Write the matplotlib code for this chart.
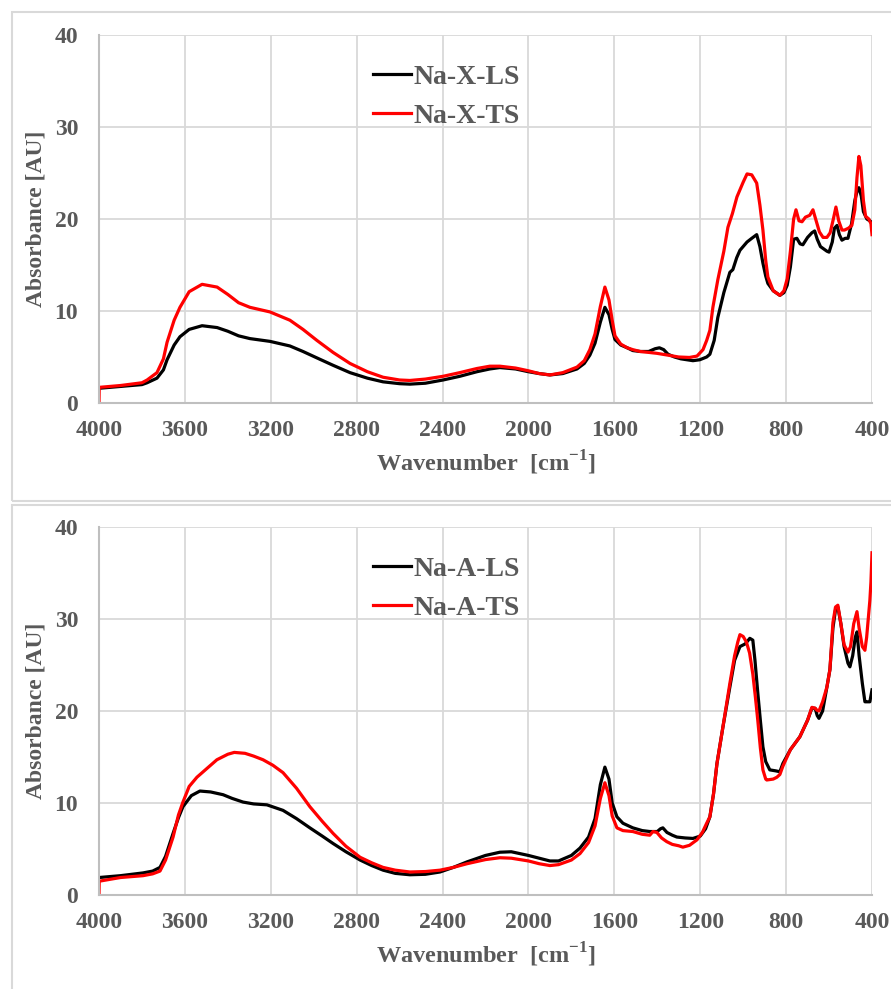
import matplotlib
matplotlib.use("Agg")
import matplotlib.pyplot as plt
from matplotlib.patches import Rectangle

plt.rcParams['font.family'] = ['Liberation Serif', 'DejaVu Serif']
plt.rcParams['font.weight'] = 'bold'
plt.rcParams['axes.labelweight'] = 'bold'
plt.rcParams['mathtext.fontset'] = 'custom'
plt.rcParams['mathtext.rm'] = 'Liberation Serif:bold'
plt.rcParams['mathtext.bf'] = 'Liberation Serif:bold'

# ---- data (wavenumber cm-1, absorbance AU) ----
x_ls_wn = [4000, 3900, 3800, 3776, 3730, 3700, 3683, 3650, 3623, 3580, 3520, 3450, 3400, 3350, 3297,
           3204, 3111, 3050, 2985, 2910, 2831, 2750, 2677, 2600, 2552, 2480, 2398, 2320, 2240, 2180,
           2133, 2060, 2000, 1950, 1900, 1840, 1774, 1740, 1714, 1690, 1665, 1644, 1625, 1610, 1597,
           1570, 1540, 1514, 1480, 1440, 1410, 1390, 1370, 1350, 1320, 1290, 1234, 1202, 1170, 1155,
           1135, 1118, 1090, 1062, 1048, 1030, 1015, 982, 960, 937, 922, 908, 895, 885, 860,
           829, 810, 795, 780, 765, 750, 735, 722, 700, 680, 667, 655, 640, 628, 610,
           600, 585, 575, 563, 552, 540, 525, 512, 495, 480, 470, 461, 450, 440, 424,
           410, 400]
x_ls_ab = [1.6, 1.8, 2.0, 2.2, 2.7, 3.6, 4.7, 6.3, 7.2, 8.0, 8.4, 8.2, 7.8, 7.3, 7.0,
           6.7, 6.2, 5.6, 4.9, 4.1, 3.3, 2.7, 2.3, 2.1, 2.05, 2.15, 2.5, 2.9, 3.4, 3.7,
           3.85, 3.7, 3.4, 3.2, 3.05, 3.2, 3.7, 4.3, 5.2, 6.5, 8.8, 10.4, 9.6, 8.0, 6.9,
           6.3, 6.0, 5.7, 5.6, 5.6, 5.9, 6.0, 5.8, 5.3, 5.0, 4.8, 4.6, 4.7, 5.0, 5.3,
           6.8, 9.3, 12.0, 14.2, 14.5, 15.8, 16.6, 17.5, 17.9, 18.3, 17.0, 15.2, 13.8, 13.0, 12.2,
           11.7, 12.0, 12.8, 14.8, 17.8, 17.9, 17.3, 17.2, 18.0, 18.5, 18.7, 17.8, 17.0, 16.8, 16.5,
           16.4, 17.5, 19.0, 19.3, 18.3, 17.7, 17.9, 17.9, 19.5, 22.0, 23.0, 23.4, 22.5, 20.8, 20.0,
           19.8, 19.6]

x_ts_wn = [4000, 3999, 3900, 3800, 3776, 3730, 3700, 3683, 3650, 3623, 3580, 3520, 3450, 3400, 3350,
           3297, 3204, 3111, 3050, 2985, 2910, 2831, 2750, 2677, 2600, 2552, 2480, 2398, 2320, 2240,
           2180, 2133, 2060, 2000, 1950, 1900, 1840, 1774, 1740, 1714, 1690, 1665, 1644, 1625, 1610,
           1597, 1570, 1540, 1514, 1480, 1440, 1402, 1350, 1300, 1250, 1215, 1187, 1170, 1155, 1141,
           1118, 1090, 1071, 1050, 1029, 1000, 982, 960, 937, 922, 908, 895, 885, 860, 829,
           810, 795, 780, 765, 754, 740, 726, 710, 690, 675, 660, 645, 628, 610, 595,
           580, 568, 555, 540, 528, 510, 494, 480, 470, 461, 452, 440, 430, 415, 405,
           400]
x_ts_ab = [0.0, 1.7, 1.9, 2.2, 2.5, 3.3, 4.8, 6.6, 9.0, 10.4, 12.1, 12.9, 12.6, 11.8, 10.9,
           10.4, 9.9, 9.0, 8.0, 6.8, 5.5, 4.3, 3.4, 2.8, 2.5, 2.45, 2.6, 2.9, 3.3, 3.75,
           4.0, 4.0, 3.8, 3.5, 3.2, 3.05, 3.3, 3.9, 4.6, 5.8, 7.5, 10.5, 12.6, 11.2, 9.0,
           7.3, 6.4, 6.0, 5.8, 5.6, 5.5, 5.4, 5.2, 5.0, 4.95, 5.1, 5.8, 6.8, 7.9, 10.4,
           13.4, 16.5, 19.1, 20.6, 22.4, 24.0, 24.9, 24.8, 23.9, 21.5, 18.8, 15.5, 13.7, 12.2, 11.7,
           12.2, 13.5, 16.5, 20.0, 21.0, 19.8, 19.7, 20.2, 20.4, 21.0, 19.8, 18.6, 18.0, 18.0, 18.5,
           20.0, 21.3, 19.8, 18.8, 18.8, 19.0, 19.3, 21.0, 24.5, 26.8, 25.8, 22.0, 20.3, 20.0, 19.5,
           18.3]

a_ls_wn = [4000, 3900, 3795, 3750, 3716, 3690, 3655, 3630, 3609, 3570, 3530, 3480, 3422, 3380, 3329,
           3280, 3218, 3143, 3080, 3018, 2960, 2910, 2850, 2784, 2730, 2677, 2620, 2552, 2480, 2412,
           2350, 2286, 2200, 2133, 2080, 2000, 1950, 1900, 1860, 1800, 1760, 1720, 1690, 1665, 1644,
           1625, 1610, 1588, 1560, 1514, 1470, 1435, 1400, 1385, 1374, 1355, 1330, 1309, 1270, 1234,
           1200, 1175, 1155, 1138, 1122, 1094, 1062, 1040, 1015, 990, 969, 955, 945, 932, 920,
           908, 895, 876, 850, 829, 815, 780, 736, 700, 680, 665, 655, 647, 630, 610,
           596, 582, 570, 559, 545, 530, 512, 503, 490, 478, 470, 460, 445, 433, 424,
           410, 400]
a_ls_ab = [1.9, 2.1, 2.4, 2.6, 3.0, 4.2, 6.7, 8.4, 9.6, 10.8, 11.3, 11.2, 10.9, 10.5, 10.1,
           9.9, 9.8, 9.2, 8.3, 7.3, 6.4, 5.6, 4.7, 3.8, 3.2, 2.7, 2.35, 2.2, 2.25, 2.5,
           3.0, 3.6, 4.3, 4.65, 4.7, 4.3, 4.0, 3.7, 3.7, 4.3, 5.1, 6.3, 8.3, 12.0, 13.9,
           12.6, 10.0, 8.5, 7.8, 7.3, 7.0, 6.9, 6.9, 7.2, 7.3, 6.8, 6.5, 6.3, 6.2, 6.15,
           6.4, 7.2, 8.5, 11.0, 14.3, 18.3, 22.6, 25.5, 27.0, 27.3, 27.9, 27.7, 25.5, 22.0, 19.0,
           16.1, 14.5, 13.6, 13.5, 13.4, 14.3, 15.8, 17.2, 19.0, 20.3, 20.3, 19.5, 19.2, 20.0, 22.6,
           24.5, 29.0, 31.0, 31.3, 29.5, 27.0, 25.2, 24.8, 26.0, 28.0, 28.6, 26.0, 23.0, 21.0, 21.0,
           21.0, 22.3]

a_ts_wn = [4000, 3999, 3900, 3795, 3750, 3716, 3690, 3655, 3630, 3609, 3580, 3544, 3500, 3451, 3400,
           3370, 3320, 3280, 3236, 3190, 3143, 3080, 3018, 2960, 2910, 2850, 2784, 2730, 2677, 2620,
           2552, 2480, 2412, 2350, 2286, 2200, 2133, 2080, 2000, 1950, 1900, 1860, 1800, 1760, 1720,
           1690, 1665, 1644, 1625, 1610, 1588, 1560, 1514, 1470, 1435, 1420, 1402, 1380, 1356, 1330,
           1300, 1281, 1250, 1215, 1190, 1170, 1155, 1138, 1122, 1094, 1062, 1040, 1025, 1015, 1000,
           985, 970, 955, 943, 932, 920, 908, 895, 890, 860, 843, 829, 815, 780, 736,
           700, 680, 665, 657, 647, 630, 610, 596, 582, 570, 559, 545, 530, 512, 500,
           485, 470, 460, 445, 433, 425, 410, 405, 400]
a_ts_ab = [0.0, 1.5, 1.9, 2.1, 2.3, 2.6, 3.8, 6.3, 8.7, 10.1, 11.8, 12.8, 13.7, 14.7, 15.3,
           15.5, 15.4, 15.1, 14.7, 14.1, 13.3, 11.6, 9.6, 8.0, 6.7, 5.3, 4.1, 3.5, 3.0, 2.7,
           2.5, 2.55, 2.7, 3.0, 3.4, 3.85, 4.05, 4.0, 3.7, 3.4, 3.2, 3.3, 3.8, 4.5, 5.7,
           7.5, 10.5, 12.2, 10.8, 8.6, 7.3, 7.0, 6.9, 6.6, 6.5, 6.9, 6.8, 6.2, 5.8, 5.5,
           5.35, 5.2, 5.4, 6.0, 6.8, 7.8, 8.5, 11.0, 14.3, 18.3, 23.0, 26.0, 27.5, 28.3, 28.1,
           27.5, 26.3, 24.0, 21.5, 19.0, 16.0, 13.6, 12.6, 12.5, 12.6, 12.8, 13.1, 14.0, 15.8, 17.2,
           19.0, 20.4, 20.3, 20.1, 20.0, 21.0, 22.6, 24.5, 29.6, 31.3, 31.5, 29.5, 27.2, 26.4, 27.0,
           29.5, 30.8, 29.0, 27.0, 26.6, 28.0, 32.0, 34.0, 37.2]

panels = [
    (x_ls_wn, x_ls_ab, x_ts_wn, x_ts_ab, 'Na-X-LS', 'Na-X-TS'),
    (a_ls_wn, a_ls_ab, a_ts_wn, a_ts_ab, 'Na-A-LS', 'Na-A-TS'),
]

W, H = 891, 989
fig = plt.figure(figsize=(W / 100, H / 100), dpi=100)

grey_txt = '#595959'
grid_col = '#d9d9d9'

# chart-area frames
for (x0, y0, x1, y1) in [(12, 12, 900, 501), (12, 505, 900, 1000)]:
    fig.patches.append(Rectangle((x0 / W, 1 - y1 / H), (x1 - x0) / W, (y1 - y0) / H,
                                 transform=fig.transFigure, fill=False,
                                 edgecolor=grid_col, linewidth=1.5))

# axes placement in pixels: left, right, top, bottom
boxes = [(99, 872, 35, 403), (99, 872, 527, 895)]

for (l, r, t, b), (wn1, ab1, wn2, ab2, lab1, lab2) in zip(boxes, panels):
    ax = fig.add_axes([l / W, 1 - b / H, (r - l) / W, (b - t) / H])
    ax.plot(wn1, ab1, color='black', lw=2.3, label=lab1, solid_joinstyle='round')
    ax.plot(wn2, ab2, color='#ff0000', lw=2.3, label=lab2, solid_joinstyle='round')
    ax.set_xlim(4000, 400)
    ax.set_ylim(0, 40)
    ax.set_xticks(range(4000, 399, -400))
    ax.set_yticks(range(0, 41, 10))
    ax.grid(True, color=grid_col, lw=1.3)
    ax.set_axisbelow(True)
    for s in ['top', 'right']:
        ax.spines[s].set_visible(False)
    for s in ['left', 'bottom']:
        ax.spines[s].set_color('#bfbfbf')
        ax.spines[s].set_linewidth(1.5)
    ax.tick_params(length=0, labelsize=17, labelcolor=grey_txt)
    ax.tick_params(axis='y', pad=15)
    ax.tick_params(axis='x', pad=12)
    ax.set_xlabel(r'Wavenumber  [cm$^{-1}$]', fontsize=17.5, color=grey_txt,
                  fontweight='bold', labelpad=6)
    ax.set_ylabel('Absorbance [AU]', fontsize=17, color=grey_txt,
                  fontweight='bold', labelpad=6)
    leg = ax.legend(loc='upper left', bbox_to_anchor=(0.3545, 0.921), frameon=False,
                    fontsize=20, handlelength=1.35, handletextpad=0.1,
                    labelspacing=0.5, borderpad=0, borderaxespad=0)
    for txt in leg.get_texts():
        txt.set_color(grey_txt)

fig.savefig('out.png', dpi=100)
